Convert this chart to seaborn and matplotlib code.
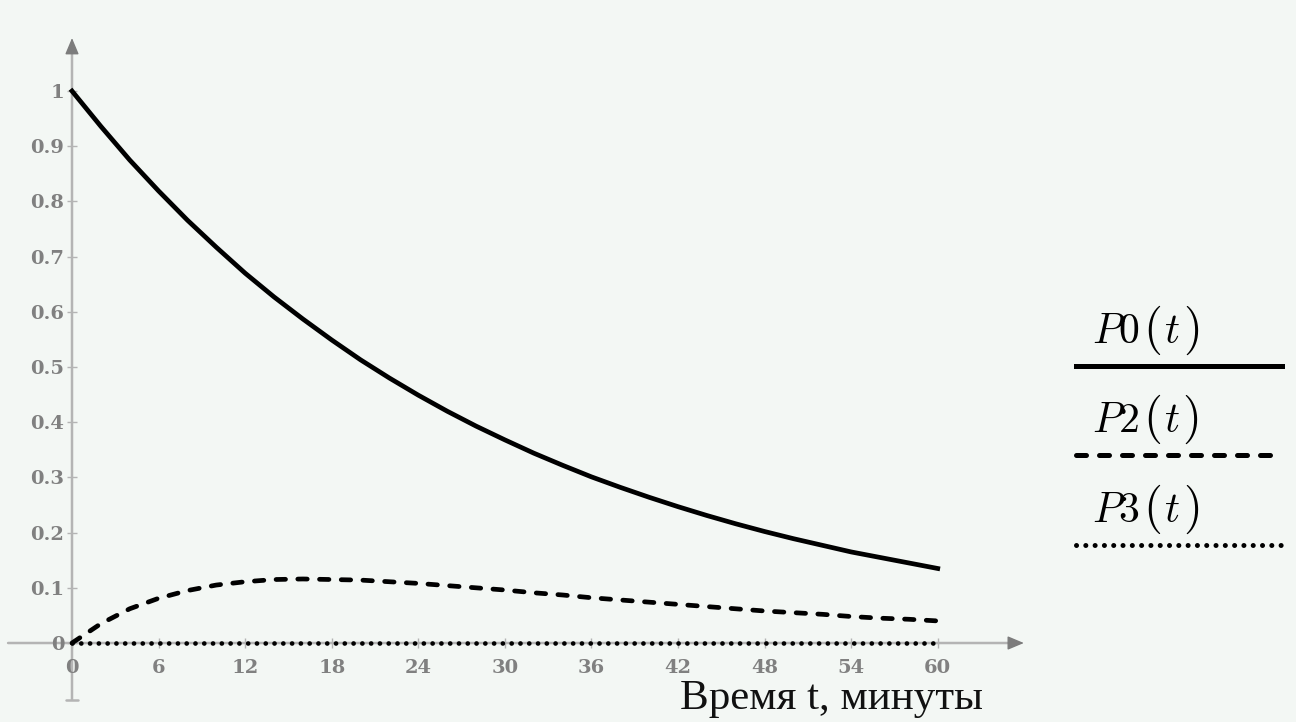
import matplotlib
matplotlib.use("Agg")
import matplotlib.pyplot as plt
from matplotlib.lines import Line2D
import numpy as np
import pandas as pd
import seaborn as sns

# значения (шаг 2 минуты)
t = list(range(0, 61, 2))
p0 = [1.000, 0.936, 0.875, 0.819, 0.766, 0.717, 0.670, 0.627, 0.587, 0.549,
      0.513, 0.480, 0.449, 0.420, 0.393, 0.368, 0.344, 0.322, 0.301, 0.282,
      0.264, 0.247, 0.231, 0.216, 0.202, 0.189, 0.177, 0.165, 0.155, 0.145, 0.135]
p2 = [0.000, 0.035, 0.062, 0.081, 0.095, 0.105, 0.111, 0.115, 0.116, 0.115,
      0.114, 0.111, 0.108, 0.104, 0.100, 0.096, 0.091, 0.087, 0.082, 0.078,
      0.074, 0.070, 0.066, 0.062, 0.058, 0.055, 0.052, 0.048, 0.045, 0.043, 0.040]
p3 = [0.0] * len(t)

series_names = ["P0", "P2", "P3"]
x_ticks = list(range(0, 61, 6))
y_ticks = [i / 10 for i in range(11)]
y_ticklabels = ["0"] + [f"{v:.1f}" for v in y_ticks[1:-1]] + ["1"]
x_label = "Время t, минуты"

df = pd.DataFrame({
    "t": t * 3,
    "p": p0 + p2 + p3,
    "series": [s for s in series_names for _ in t],
})

bg = "#f3f7f4"
axis_col = "#b4b4b4"
head_col = "#7c7c7c"
label_col = "#808080"

plt.rcParams["mathtext.fontset"] = "cm"

fig = plt.figure(figsize=(12.96, 7.22), dpi=100, facecolor=bg)
ax = fig.add_axes([0, 0, 1, 1], facecolor=bg)

dash_map = {"P0": "", "P2": (2.0, 2.6), "P3": (0.01, 1.85)}
sns.lineplot(data=df, x="t", y="p", style="series", dashes=dash_map,
             color="black", linewidth=3.4, dash_capstyle="round",
             legend=False, ax=ax, zorder=3)

ax.set_xlim(-4.99, 84.83)
ax.set_ylim(-0.1431, 1.1649)

# оси в стиле Mathcad: пересекаются в нуле, со стрелками
for side in ["top", "right", "left", "bottom"]:
    ax.spines[side].set_visible(False)
ax.spines["left"].set_position(("data", 0))
ax.spines["bottom"].set_position(("data", 0))

ax.annotate("", xy=(65.0, 0), xytext=(-4.43, 0),
            arrowprops=dict(arrowstyle="-", color=axis_col, lw=1.8,
                            shrinkA=0, shrinkB=0), zorder=1)
ax.annotate("", xy=(65.97, 0), xytext=(64.9, 0),
            arrowprops=dict(arrowstyle="-|>,head_length=1.0,head_width=0.42",
                            color=head_col, lw=1.0, shrinkA=0, shrinkB=0), zorder=1)
ax.annotate("", xy=(0, 1.075), xytext=(0, -0.103),
            arrowprops=dict(arrowstyle="|-|,widthA=0.45,widthB=0", color=axis_col,
                            lw=1.8, shrinkA=0, shrinkB=0), zorder=1)
ax.annotate("", xy=(0, 1.096), xytext=(0, 1.07),
            arrowprops=dict(arrowstyle="-|>,head_length=1.0,head_width=0.42",
                            color=head_col, lw=1.0, shrinkA=0, shrinkB=0), zorder=1)

ax.set_xticks(x_ticks)
ax.set_xticklabels([str(v) for v in x_ticks], fontweight="bold")
ax.set_yticks(y_ticks)
ax.set_yticklabels(y_ticklabels, fontweight="bold")
ax.tick_params(axis="both", direction="inout", length=7, width=1.0,
               color=axis_col, labelcolor=label_col, labelsize=14,
               labelfontfamily="DejaVu Serif")
ax.tick_params(axis="x", pad=8)
ax.tick_params(axis="y", pad=2)
ax.set_xlabel("")
ax.set_ylabel("")

fig.text(983 / 1296, 1 - 709 / 722, x_label, ha="right", va="baseline",
         family="Liberation Serif", fontsize=31, color="#111111")

# легенда: подпись "Pn(t)" над образцом линии, скобки крупнее
renderer = fig.canvas.get_renderer()
legend_y = [366, 455, 545]
for name, ly in zip(series_names, legend_y):
    base = 1 - (ly - 23) / 722
    xpix = 1092
    parts = [(f"${name}$", 30, 3), ("$($", 35, 3), ("$t$", 30, 3), ("$)$", 35, 0)]
    for txt, fs, gap in parts:
        tt = fig.text(xpix / 1296, base, txt, ha="left", va="baseline",
                      fontsize=fs, color="black")
        xpix += tt.get_window_extent(renderer).width + gap
    ln = Line2D([1076 / 1296, 1282 / 1296], [1 - ly / 722, 1 - ly / 722],
                transform=fig.transFigure, color="black", linewidth=3.6,
                dash_capstyle="round")
    if dash_map[name]:
        ln.set_dashes(dash_map[name])
    fig.add_artist(ln)

fig.savefig("out.png", dpi=100, facecolor=bg)
